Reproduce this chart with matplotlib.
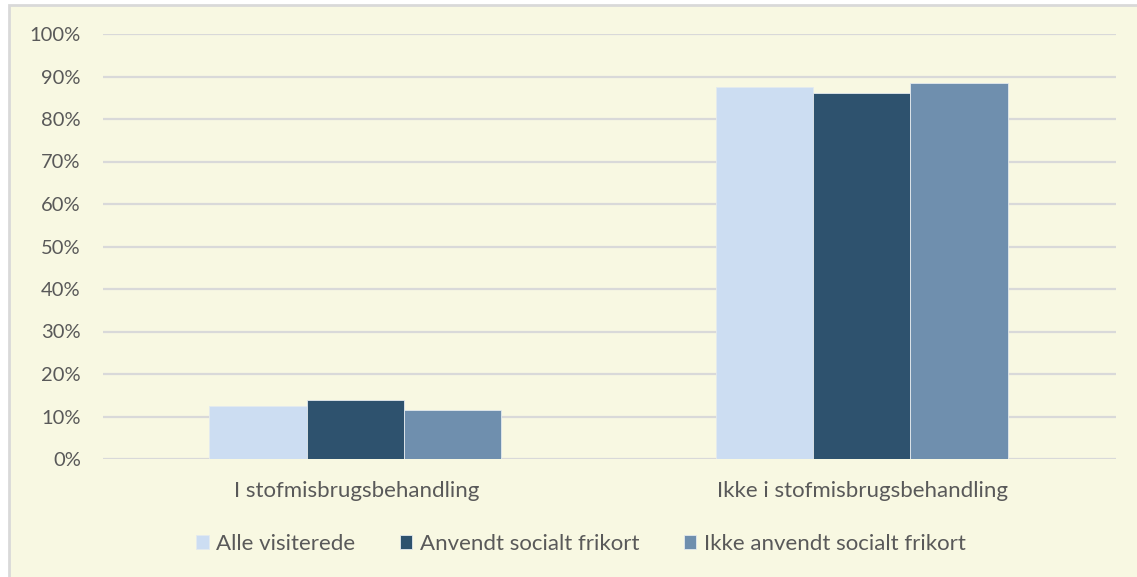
import matplotlib.pyplot as plt
import numpy as np
from matplotlib.patches import Rectangle
from matplotlib.ticker import PercentFormatter

categories = ["I stofmisbrugsbehandling", "Ikke i stofmisbrugsbehandling"]
series_names = ["Alle visiterede", "Anvendt socialt frikort", "Ikke anvendt socialt frikort"]
alle = [12.4, 87.6]
anvendt = [13.9, 86.1]
ikke_anvendt = [11.5, 88.5]
y_ticks = list(range(0, 101, 10))

colors = ["#CCDDF2", "#2E526E", "#6F8FAE"]
bg = "#F8F8E2"
grid_col = "#D9D9D9"
text_col = "#595959"

plt.rcParams["font.family"] = ["Lato", "DejaVu Sans"]

fig = plt.figure(figsize=(11.37, 5.77), dpi=100)
fig.patch.set_facecolor("white")
# chart area frame
fig.patches.append(Rectangle((9 / 1137, -0.05), 1.2, 1 - 5 / 577 + 0.05,
                             transform=fig.transFigure, facecolor=bg,
                             edgecolor=grid_col, linewidth=2.0, zorder=-5))

ax = fig.add_axes([103 / 1137, 1 - 459 / 577, (1116 - 103) / 1137, (459 - 34) / 577])
ax.set_facecolor("none")

x = np.arange(len(categories))
w = 0.192
for i, (vals, name) in enumerate(zip([alle, anvendt, ikke_anvendt], series_names)):
    ax.bar(x + (i - 1) * w - 0.002, vals, width=w, color=colors[i], label=name,
           edgecolor="#E4EAEE", linewidth=0.6, zorder=3)

ax.set_xlim(-0.5, 1.5)
ax.set_ylim(0, 100)
ax.set_yticks(y_ticks)
ax.yaxis.set_major_formatter(PercentFormatter(decimals=0))
ax.set_xticks(x)
ax.set_xticklabels(categories)
ax.grid(axis="y", color=grid_col, linewidth=1.6, zorder=0)
ax.set_axisbelow(True)
for s in ax.spines.values():
    s.set_visible(False)
ax.tick_params(axis="both", length=0, colors=text_col)
ax.tick_params(axis="y", pad=16, labelsize=14.5)
ax.tick_params(axis="x", pad=16, labelsize=16)

leg = fig.legend(loc="center", bbox_to_anchor=(581 / 1137, 1 - 544 / 577), ncol=3,
                 frameon=False, fontsize=16, handlelength=0.55, handleheight=0.55,
                 handletextpad=0.35, columnspacing=2.0, labelcolor=text_col)

fig.savefig("out.png", dpi=100, facecolor=fig.get_facecolor())
